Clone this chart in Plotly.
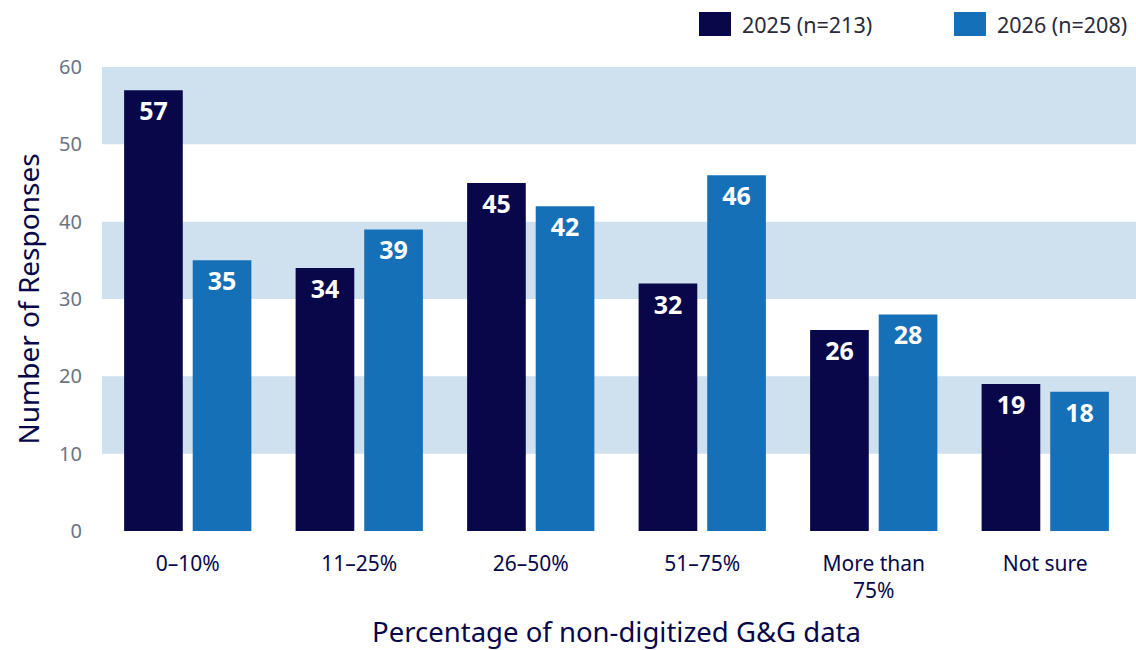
import plotly.graph_objects as go

categories = ["0–10%", "11–25%", "26–50%", "51–75%", "More than<br>75%", "Not sure"]
series_names = ["2025 (n=213)", "2026 (n=208)"]
values_2025 = [57, 34, 45, 32, 26, 19]
values_2026 = [35, 39, 42, 46, 28, 18]
y_ticks = [0, 10, 20, 30, 40, 50, 60]
bands = [(10, 20), (30, 40), (50, 60)]

NAVY = "#07074a"
BLUE = "#1570b8"
BAND = "#cfe1ef"
FONT = "Noto Sans, Open Sans, sans-serif"

L, R, T, B = 102, 5, 67, 119
PW = 1136 - L - R
PH = 650 - T - B

fig = go.Figure()
for name, vals, col in [(series_names[0], values_2025, NAVY), (series_names[1], values_2026, BLUE)]:
    fig.add_trace(go.Bar(
        x=categories, y=vals, name=name, marker_color=col, marker_line_width=0,
        text=vals, textposition="inside", insidetextanchor="end",
        textfont=dict(color="white", size=25, family=FONT, weight="bold"),
        showlegend=False, hoverinfo="skip",
    ))

for y0, y1 in bands:
    fig.add_shape(type="rect", xref="paper", yref="y", x0=0, x1=1 + R / PW, y0=y0, y1=y1,
                  fillcolor=BAND, line_width=0, layer="below")

# custom legend
leg = [(series_names[0], NAVY, 699), (series_names[1], BLUE, 954)]
for name, col, px in leg:
    x0 = (px - L) / PW
    fig.add_shape(type="rect", xref="paper", yref="paper", x0=x0, x1=x0 + 32 / PW,
                  y0=1 + (T - 36) / PH, y1=1 + (T - 12) / PH,
                  fillcolor=col, line_width=0)
    fig.add_annotation(xref="paper", yref="paper", x=x0 + 41 / PW, y=1 + (T - 24) / PH,
                       text=name, showarrow=False, xanchor="left", yanchor="middle",
                       font=dict(size=21.5, color="#2a2a3a", family=FONT))

fig.update_layout(
    width=1136, height=650,
    margin=dict(l=L, r=R, t=T, b=B, autoexpand=False),
    paper_bgcolor="white", plot_bgcolor="white",
    barmode="group", bargap=0.2, bargroupgap=0.145,
    font=dict(family=FONT),
    uniformtext=dict(minsize=10, mode="show"),
)
fig.update_yaxes(
    range=[0, 60], tickvals=y_ticks, showgrid=False, zeroline=False, showline=False,
    automargin=False,
    tickfont=dict(size=20, color="#6b7385", family=FONT), ticks="", ticklabelstandoff=19,
    title=dict(text="Number of Responses", font=dict(size=28, color=NAVY, family=FONT), standoff=11),
)
fig.update_xaxes(
    showgrid=False, zeroline=False, showline=False, ticks="", automargin=False,
    tickfont=dict(size=21, color=NAVY, family=FONT), ticklabelstandoff=18,
    title=dict(text="Percentage of non-digitized G&G data", font=dict(size=27.5, color=NAVY, family=FONT), standoff=20),
)

fig.write_html("out.html", config={"displayModeBar": False},
               post_script="document.body.style.margin='0';document.body.style.overflow='hidden';")
